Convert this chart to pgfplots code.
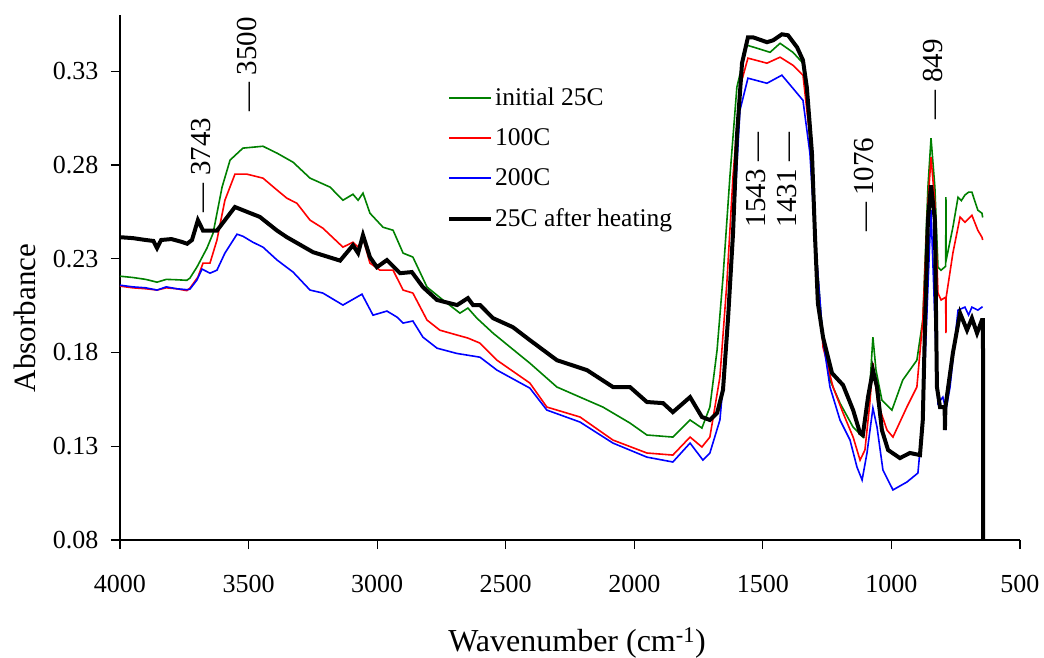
\documentclass[border=0pt]{standalone}
\usepackage{fontspec}
\setmainfont{Liberation Serif}
\usepackage{pgfplots}
\pgfplotsset{compat=1.18}
\definecolor{cgreen}{RGB}{0,128,0}
\definecolor{cred}{RGB}{255,0,0}
\definecolor{cblue}{RGB}{0,0,255}
\begin{document}
\begin{tikzpicture}
\begin{axis}[
  scale only axis, width=900pt, height=525pt,
  xmin=500, xmax=4000, x dir=reverse,
  ymin=0.08, ymax=0.36,
  xtick={500,1000,1500,2000,2500,3000,3500,4000},
  ytick={0.08,0.13,0.18,0.23,0.28,0.33},
  axis x line*=bottom, axis y line*=left,
  axis line style={line width=1.3pt,-},
  tick style={line width=1.1pt,black},
  tick align=outside, major tick length=9pt,
  /pgf/number format/assume math mode=true,
  /pgf/number format/1000 sep={},
  tick label style={font=\fontsize{26}{30}\selectfont},
  xticklabel style={yshift=-23pt},
  yticklabel style={xshift=-9pt, /pgf/number format/.cd, fixed, fixed zerofill, precision=2},
  xlabel={Wavenumber (cm\textsuperscript{-1})},
  ylabel={Absorbance},
  xlabel style={font=\fontsize{32}{36}\selectfont, at={(axis description cs:0.5078,-0.1962)}, anchor=center},
  ylabel style={font=\fontsize{31}{36}\selectfont, at={(axis description cs:-0.1056,0.4229)}, anchor=center},
  legend style={draw=none, fill=none, at={(axis description cs:0.36,0.8686)}, anchor=north west,
    font=\fontsize{25.5}{30}\selectfont, row sep=17.5pt},
  legend cell align=left,
  legend image code/.code={\draw[#1] (0pt,0pt) -- (42pt,0pt);},
  clip mode=individual,
]
\addplot[cgreen, line width=1.6pt] table {
4000 0.2207
3950 0.2200
3900 0.2190
3856 0.2175
3820 0.2190
3780 0.2188
3740 0.2185
3728 0.2197
3701 0.2255
3662 0.2356
3638 0.2436
3603 0.2682
3572 0.2826
3522 0.2890
3444 0.2900
3389 0.2863
3327 0.2815
3261 0.2730
3183 0.2682
3133 0.2612
3094 0.2644
3074 0.2612
3055 0.2650
3028 0.2543
2977 0.2468
2938 0.2452
2899 0.2330
2861 0.2309
2806 0.2149
2744 0.2080
2678 0.2010
2647 0.2037
2612 0.1983
2549 0.1903
2483 0.1829
2406 0.1743
2301 0.1616
2211 0.1562
2122 0.1509
2017 0.1424
1951 0.1360
1850 0.1349
1783 0.1440
1737 0.1397
1706 0.1509
1678 0.1813
1655 0.2200
1628 0.2740
1601 0.3215
1562 0.3439
1523 0.3423
1472 0.3401
1433 0.3449
1383 0.3401
1344 0.3343
1317 0.2948
1297 0.2415
1270 0.1935
1239 0.1653
1200 0.1530
1149 0.1402
1111 0.1349
1084 0.1616
1072 0.1882
1060 0.1706
1037 0.1546
998 0.1493
956 0.1653
901 0.1759
878 0.1973
858 0.2682
846 0.2943
831 0.2682
819 0.2255
807 0.2239
789 0.2260
788 0.2628
787 0.2293
761 0.2468
741 0.2628
728 0.2610
714 0.2640
700 0.2655
687 0.2655
664 0.2559
648 0.2543
645 0.2520
};
\addlegendentry{initial 25C}
\addplot[cred, line width=1.6pt] table {
4000 0.2154
3950 0.2145
3900 0.2140
3856 0.2133
3820 0.2145
3780 0.2140
3740 0.2130
3728 0.2143
3697 0.2202
3677 0.2277
3650 0.2277
3623 0.2399
3592 0.2612
3553 0.2751
3506 0.2751
3444 0.2730
3389 0.2666
3351 0.2623
3312 0.2596
3261 0.2506
3211 0.2463
3133 0.2362
3094 0.2388
3074 0.2362
3055 0.2410
3028 0.2277
2989 0.2239
2938 0.2239
2899 0.2133
2861 0.2117
2806 0.1973
2756 0.1919
2689 0.1893
2647 0.1877
2600 0.1850
2534 0.1759
2406 0.1637
2340 0.1509
2211 0.1456
2083 0.1333
1951 0.1264
1850 0.1253
1783 0.1349
1737 0.1296
1706 0.1349
1667 0.1669
1640 0.2170
1616 0.2740
1589 0.3215
1558 0.3370
1484 0.3343
1433 0.3375
1383 0.3332
1344 0.3279
1317 0.2948
1297 0.2415
1266 0.1829
1227 0.1616
1188 0.1477
1149 0.1349
1122 0.1226
1103 0.1280
1084 0.1530
1072 0.1743
1053 0.1530
1017 0.1386
994 0.1349
940 0.1509
901 0.1616
878 0.1973
858 0.2596
846 0.2842
831 0.2596
819 0.2117
807 0.2080
789 0.2095
788 0.1903
787 0.2095
761 0.2330
733 0.2522
714 0.2495
687 0.2532
664 0.2452
648 0.2415
645 0.2400
};
\addlegendentry{100C}
\addplot[cblue, line width=1.6pt] table {
4000 0.2159
3950 0.2150
3900 0.2145
3856 0.2133
3820 0.2150
3780 0.2140
3740 0.2135
3728 0.2138
3701 0.2186
3681 0.2245
3650 0.2223
3623 0.2239
3592 0.2330
3545 0.2431
3522 0.2420
3483 0.2388
3444 0.2362
3389 0.2293
3327 0.2229
3261 0.2133
3211 0.2117
3133 0.2053
3059 0.2111
3016 0.1999
2962 0.2021
2923 0.1989
2899 0.1957
2861 0.1968
2822 0.1882
2767 0.1823
2690 0.1795
2600 0.1775
2534 0.1706
2406 0.1610
2340 0.1493
2211 0.1429
2083 0.1317
1951 0.1242
1850 0.1216
1783 0.1317
1733 0.1226
1706 0.1264
1667 0.1440
1640 0.1850
1616 0.2420
1589 0.3092
1558 0.3263
1484 0.3236
1426 0.3279
1383 0.3209
1344 0.3145
1317 0.2863
1297 0.2415
1266 0.1866
1239 0.1616
1200 0.1440
1161 0.1333
1134 0.1189
1114 0.1120
1095 0.1264
1072 0.1504
1056 0.1402
1033 0.1173
994 0.1067
940 0.1109
897 0.1157
878 0.1440
858 0.2149
846 0.2559
831 0.1973
819 0.1530
800 0.1562
789 0.1500
788 0.1386
787 0.1500
772 0.1616
741 0.2026
714 0.2042
700 0.2000
687 0.2042
664 0.2026
648 0.2042
645 0.2040
};
\addlegendentry{200C}
\addplot[black, line width=4pt] table {
4000 0.2415
3950 0.2410
3900 0.2400
3870 0.2395
3856 0.2357
3840 0.2400
3800 0.2405
3760 0.2390
3739 0.2380
3720 0.2400
3697 0.2506
3677 0.2450
3623 0.2450
3553 0.2576
3456 0.2523
3389 0.2450
3351 0.2415
3249 0.2335
3144 0.2290
3094 0.2372
3074 0.2330
3055 0.2426
3028 0.2309
3001 0.2255
2962 0.2293
2911 0.2223
2865 0.2229
2822 0.2149
2767 0.2080
2689 0.2053
2647 0.2090
2627 0.2053
2600 0.2053
2549 0.1983
2472 0.1935
2406 0.1866
2301 0.1759
2184 0.1706
2083 0.1616
2017 0.1616
1951 0.1536
1888 0.1530
1850 0.1482
1783 0.1562
1737 0.1456
1706 0.1440
1678 0.1477
1655 0.1600
1635 0.1989
1616 0.2436
1601 0.2950
1581 0.3343
1558 0.3481
1538 0.3481
1484 0.3455
1460 0.3465
1426 0.3497
1402 0.3492
1367 0.3428
1344 0.3359
1329 0.3215
1309 0.2863
1297 0.2415
1286 0.2063
1266 0.1882
1231 0.1690
1188 0.1626
1149 0.1493
1122 0.1370
1111 0.1360
1091 0.1562
1072 0.1706
1056 0.1616
1037 0.1386
1013 0.1280
967 0.1237
928 0.1264
889 0.1253
878 0.1440
869 0.1973
858 0.2506
846 0.2692
831 0.2506
823 0.1616
811 0.1509
793 0.1509
792 0.1386
790 0.1509
761 0.1797
733 0.2010
706 0.1919
687 0.1983
667 0.1903
648 0.1973
644 0.1973
643 0.0700
};
\addlegendentry{25C after heating}
\coordinate (o) at (axis cs:4000,0.08);
\begin{scope}[every node/.style={rotate=90, anchor=west, inner sep=0pt, font=\fontsize{29}{32}\selectfont}]
\node at (axis cs:3685,0.2548) {— 3743};
\node at (axis cs:3506,0.3085) {— 3500};
\node at (axis cs:1527,0.2468) {1543 —};
\node at (axis cs:1406,0.2468) {1431 —};
\node at (axis cs:1107,0.2442) {— 1076};
\node at (axis cs:838,0.3044) {— 849};
\end{scope}
\end{axis}
\pgfresetboundingbox
\path[use as bounding box] ([shift={(-120pt,-117pt)}]o) rectangle ([shift={(924pt,540pt)}]o);
\end{tikzpicture}
\end{document}
